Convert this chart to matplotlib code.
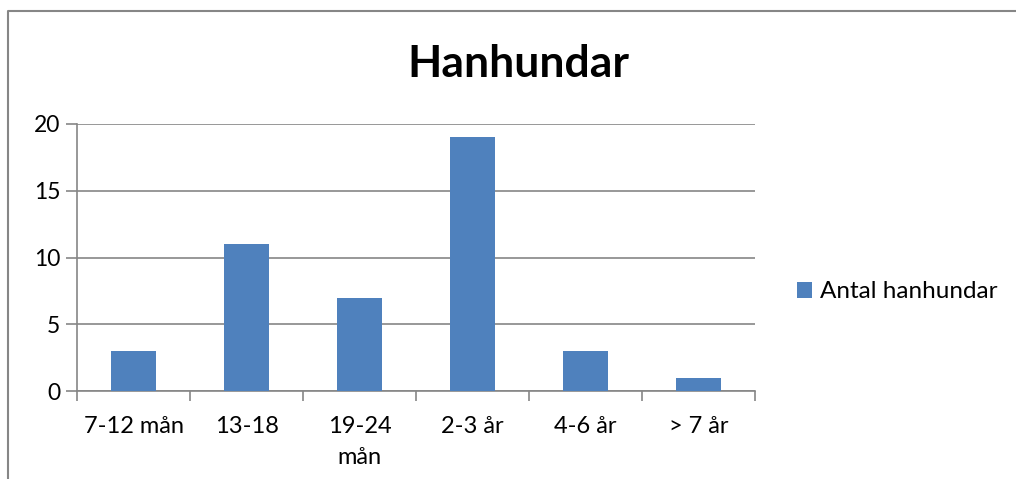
import matplotlib.pyplot as plt
import numpy as np
from matplotlib.lines import Line2D

categories = ['7-12 mån', '13-18', '19-24\nmån', '2-3 år', '4-6 år', '> 7 år']
counts = [3, 11, 7, 19, 3, 1]
series_name = 'Antal hanhundar'
title = 'Hanhundar'

bar_color = '#4F81BD'
grid_color = '#868686'

plt.rcParams['font.family'] = ['Lato', 'DejaVu Sans']

fig = plt.figure(figsize=(10.16, 4.79), dpi=100)
ax = fig.add_axes([77 / 1016, 1 - 391 / 479, (755 - 77) / 1016, (391 - 124) / 479])

x = np.arange(len(categories))
ax.bar(x, counts, width=0.4, color=bar_color, label=series_name, zorder=3)

ax.set_xlim(-0.5, len(categories) - 0.5)
ax.set_ylim(0, 20)
ax.set_yticks([0, 5, 10, 15, 20])
ax.yaxis.grid(True, color=grid_color, linewidth=1.2, zorder=0)

# category labels centred, ticks on boundaries
ax.set_xticks(x)
ax.set_xticklabels(categories, fontsize=17, linespacing=1.6)
ax.tick_params(axis='x', length=0, pad=18)
ax.set_xticks(np.arange(len(categories) + 1) - 0.5, minor=True)
ax.tick_params(axis='x', which='minor', length=7, width=1.2, color=grid_color)
ax.tick_params(axis='y', length=8, width=1.2, color=grid_color, labelsize=16.5, pad=4)

for side in ['top', 'right']:
    ax.spines[side].set_visible(False)
for side in ['left', 'bottom']:
    ax.spines[side].set_color(grid_color)
    ax.spines[side].set_linewidth(1.2)

fig.text(518 / 1016, 1 - 64 / 479, title, fontsize=32, fontweight='bold',
         ha='center', va='center')

ax.legend(loc='center left', bbox_to_anchor=(797 / 1016, 1 - 292 / 479),
          bbox_transform=fig.transFigure, frameon=False, fontsize=17.5,
          handlelength=0.6, handleheight=0.6, handletextpad=0.35,
          borderpad=0, borderaxespad=0)

# outer chart frame (left and top edges visible)
fig.add_artist(Line2D([8 / 1016, 8 / 1016, 1.0], [0.0, 1 - 11 / 479, 1 - 11 / 479],
                      transform=fig.transFigure, color=grid_color, linewidth=1.5))

fig.savefig('out.png', dpi=100)
